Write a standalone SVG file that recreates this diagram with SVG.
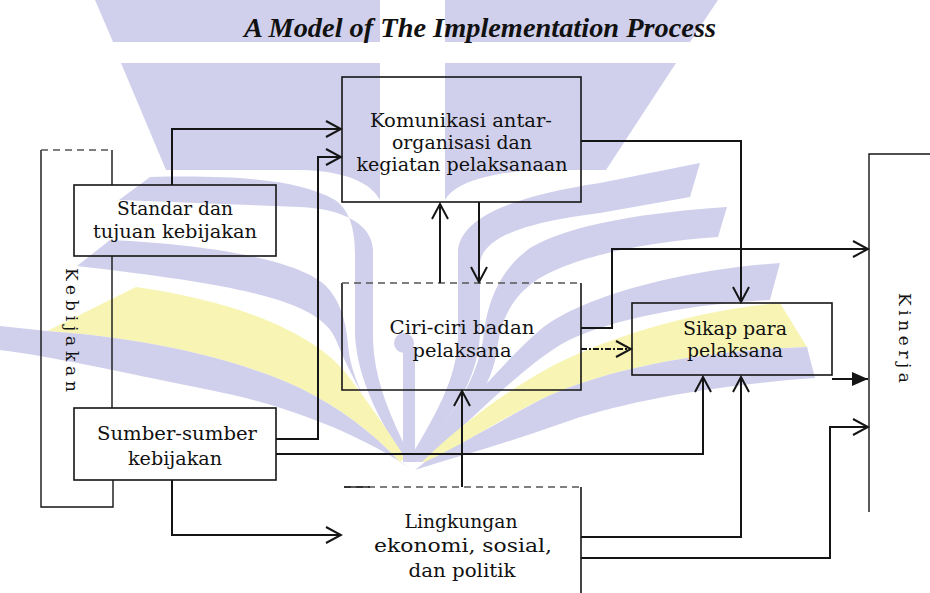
<svg xmlns="http://www.w3.org/2000/svg" width="930" height="593" viewBox="0 0 930 593">
  <style>
    .wm { fill: #d0d0ec; }
    .wmy { fill: #f8f5b4; }
    .box { fill: none; stroke: #151515; stroke-width: 1.6; }
    .edge { fill: none; stroke: #151515; stroke-width: 2; }
    .thin { fill: none; stroke: #151515; stroke-width: 1.4; }
    .dash { fill: none; stroke: #555; stroke-width: 1.3; stroke-dasharray: 7 5; }
    .lbl { font-family: "DejaVu Serif", "Liberation Serif", serif; font-size: 18.5px; fill: #111; text-anchor: middle; }
    .side { font-family: "DejaVu Serif", "Liberation Serif", serif; font-size: 17px; fill: #111; }
    .title { font-family: "Liberation Serif", "Times New Roman", serif; font-size: 28px; font-weight: bold; font-style: italic; fill: #111; }
  </style>
  <defs>
    <marker id="open" viewBox="-17 -10 19 20" refX="0" refY="0" markerWidth="19" markerHeight="20" markerUnits="userSpaceOnUse" orient="auto">
      <path d="M-15,-8 L0,0 L-15,8" fill="none" stroke="#151515" stroke-width="2"/>
    </marker>
    <marker id="solid" viewBox="-17 -8 18 16" refX="0" refY="0" markerWidth="18" markerHeight="16" markerUnits="userSpaceOnUse" orient="auto">
      <path d="M-16,-7 L0,0 L-16,7 Z" fill="#151515"/>
    </marker>
  </defs>

  <rect width="930" height="593" fill="#ffffff"/>

  <!-- background emblem: top bar pieces, book-page bands and central bud -->
  <g id="emblem">
    <path class="wm" d="M95,0 H380 V42 H113 Z"/>
    <path class="wm" d="M121,63 H380 V200 C372,185 350,171 300,170 H166 Z"/>
    <path class="wm" d="M445,0 H718 L690,42 H445 Z"/>
    <path class="wm" d="M445,63 H676 L606,170 H540 C490,172 455,182 445,200 Z"/>
    <!-- left pages -->
    <path class="wm" d="M150,177 C240,175 300,180 335,200 C350,210 355,230 355,255 L355,335 C357,380 382,425 405,460 L412,460 C392,420 373,380 373,335 L373,250 C372,225 345,209 300,207 L119,200 Z"/>
    <path class="wm" d="M110,240 C220,245 300,262 325,285 C340,300 346,320 348,345 C352,390 383,430 405,460 C375,420 350,375 336,340 C320,300 240,285 77,266 Z"/>
    <path class="wmy" d="M136,287 C230,300 310,330 345,372 C365,398 388,430 405,458 L400,462 C372,432 340,408 300,388 C240,360 150,338 47,331 Z"/>
    <path class="wm" d="M0,326 L47,331 C150,338 240,360 300,388 C340,408 372,432 400,462 L410,468 C360,435 290,405 200,388 C120,372 50,356 0,350 Z"/>
    <!-- right pages -->
    <path class="wm" d="M700,163 L690,197 L600,213 C530,222 485,235 480,262 L480,335 C478,380 450,420 415,460 L409,460 C432,420 458,380 458,335 L458,250 C462,215 520,195 600,183 Z"/>
    <path class="wm" d="M727,207 L718,237 C640,242 560,260 530,285 C505,305 500,330 497,350 C490,400 450,435 418,462 L412,462 C440,430 475,390 483,340 C487,300 500,270 530,248 C570,224 650,212 727,207 Z"/>
    <path class="wm" d="M780,263 L770,300 C680,305 600,322 560,345 C520,370 470,420 425,462 L418,462 C455,420 500,365 540,330 C580,297 680,270 780,263 Z"/>
    <path class="wmy" d="M780,303 L807,347 C700,350 600,370 540,400 C500,420 460,445 430,462 L422,462 C455,430 500,395 545,370 C610,335 700,310 780,303 Z"/>
    <path class="wm" d="M807,347 L815,378 C715,385 620,402 560,424 C510,442 460,456 415,470 L425,462 C470,440 505,418 540,400 C600,370 700,350 807,347 Z"/>
    <!-- central bud and stem -->
    <circle class="wm" cx="404" cy="343" r="10"/>
    <rect class="wm" x="403" y="348" width="12" height="114"/>
  </g>

  <text class="title" x="244" y="37" textLength="472" lengthAdjust="spacingAndGlyphs">A Model of The Implementation Process</text>

  <!-- frames labelled on their sides -->
  <g id="kebijakan">
    <path class="thin" d="M41,150 V507 H113 V480"/>
    <path class="thin" d="M112,185 V150"/>
    <path class="thin" d="M112,256 V408"/>
    <path class="dash" d="M41,150 H112"/>
    <text class="side" transform="translate(66,268) rotate(90)" textLength="124" lengthAdjust="spacing">Kebijakan</text>
  </g>
  <g id="kinerja">
    <path class="thin" d="M930,154 H869 V512"/>
    <text class="side" transform="translate(899,293) rotate(90)" textLength="90" lengthAdjust="spacing">Kinerja</text>
  </g>

  <!-- nodes -->
  <g id="standar">
    <rect class="box" x="74" y="185" width="202" height="71"/>
    <text class="lbl" x="175" y="215" textLength="116" lengthAdjust="spacingAndGlyphs">Standar dan</text>
    <text class="lbl" x="175" y="238" textLength="164" lengthAdjust="spacingAndGlyphs">tujuan kebijakan</text>
  </g>
  <g id="sumber">
    <rect class="box" x="74" y="408" width="202" height="72"/>
    <text class="lbl" x="177" y="440" textLength="160" lengthAdjust="spacingAndGlyphs">Sumber-sumber</text>
    <text class="lbl" x="175" y="465" textLength="94" lengthAdjust="spacingAndGlyphs">kebijakan</text>
  </g>
  <g id="komunikasi">
    <rect class="box" x="342" y="77" width="239" height="125"/>
    <text class="lbl" x="461" y="127" textLength="182" lengthAdjust="spacingAndGlyphs">Komunikasi antar-</text>
    <text class="lbl" x="462" y="149" textLength="140" lengthAdjust="spacingAndGlyphs">organisasi dan</text>
    <text class="lbl" x="462" y="171" textLength="211" lengthAdjust="spacingAndGlyphs">kegiatan pelaksanaan</text>
  </g>
  <g id="ciri">
    <path class="box" d="M342,283 V390 H581 V283"/>
    <path class="dash" d="M342,283 H581"/>
    <text class="lbl" x="462" y="334" textLength="145" lengthAdjust="spacingAndGlyphs">Ciri-ciri badan</text>
    <text class="lbl" x="462" y="357" textLength="99" lengthAdjust="spacingAndGlyphs">pelaksana</text>
  </g>
  <g id="sikap">
    <rect class="box" x="632" y="303" width="200" height="72"/>
    <text class="lbl" x="735" y="335" textLength="104" lengthAdjust="spacingAndGlyphs">Sikap para</text>
    <text class="lbl" x="735" y="357" textLength="96" lengthAdjust="spacingAndGlyphs">pelaksana</text>
  </g>
  <g id="lingkungan">
    <path class="dash" d="M344,487 H581"/>
    <path class="thin" d="M344,487 H370"/>
    <path class="box" d="M581,487 V593"/>
    <text class="lbl" x="461" y="528" textLength="113" lengthAdjust="spacingAndGlyphs">Lingkungan</text>
    <text class="lbl" x="463" y="552" textLength="178" lengthAdjust="spacingAndGlyphs">ekonomi, sosial,</text>
    <text class="lbl" x="462" y="577" textLength="107" lengthAdjust="spacingAndGlyphs">dan politik</text>
  </g>

  <!-- connectors -->
  <g id="connectors">
    <path class="edge" d="M172,185 V129 H341" marker-end="url(#open)"/>
    <path class="edge" d="M276,439 H318 V157 H341" marker-end="url(#open)"/>
    <path class="edge" d="M581,141 H741 V302" marker-end="url(#open)"/>
    <path class="edge" d="M440,283 V204" marker-end="url(#open)"/>
    <path class="edge" d="M479,202 V282" marker-end="url(#open)"/>
    <path class="edge" d="M581,328 H612 V249 H868" marker-end="url(#open)"/>
    <path class="edge" d="M581,349 H631" stroke-dasharray="6 2 2 2" marker-end="url(#open)"/>
    <path class="edge" d="M832,379 H868" marker-end="url(#solid)"/>
    <path class="edge" d="M276,454 H703 V377" marker-end="url(#open)"/>
    <path class="edge" d="M581,537 H741 V377" marker-end="url(#open)"/>
    <path class="edge" d="M581,558 H830 V427 H868" marker-end="url(#open)"/>
    <path class="edge" d="M462,487 V391" marker-end="url(#open)"/>
    <path class="edge" d="M172,480 V535 H341" marker-end="url(#open)"/>
  </g>
</svg>
